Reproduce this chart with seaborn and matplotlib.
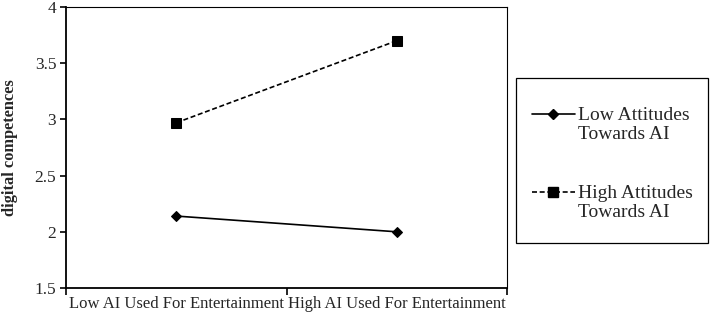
import matplotlib
matplotlib.use("Agg")
import matplotlib.pyplot as plt
import seaborn as sns
import pandas as pd
from matplotlib.lines import Line2D
from matplotlib.patches import Rectangle
from matplotlib.legend_handler import HandlerLine2D

usage = ["Low AI Used For Entertainment", "High AI Used For Entertainment"]
low_att = [2.14, 2.00]
high_att = [2.97, 3.70]
series_names = ["Low Attitudes\nTowards AI", "High Attitudes\nTowards AI"]
y_ticks = [1.5, 2, 2.5, 3, 3.5, 4]
y_tick_labels = ["1.5", "2", "2.5", "3", "3.5", "4"]
y_label = "digital competences"

df = pd.DataFrame({
    "usage": usage * 2,
    "value": low_att + high_att,
    "group": [series_names[0]] * 2 + [series_names[1]] * 2,
})

sns.set_theme(style="white")
plt.rcParams["font.family"] = ["Liberation Serif", "DejaVu Serif"]

fig = plt.figure(figsize=(7.1, 3.16), dpi=100)
ax = fig.add_axes([66 / 710, 28 / 316, (507 - 66) / 710, (288 - 7) / 316])

pos = {u: i for i, u in enumerate(usage)}
df["x"] = df["usage"].map(pos)

dash = (0, (3, 1.6))
sns.lineplot(data=df[df.group == series_names[0]], x="x", y="value", ax=ax,
             color="black", linewidth=1.2, marker="D", markersize=5.5,
             markeredgecolor="black", linestyle="-", legend=False)
sns.lineplot(data=df[df.group == series_names[1]], x="x", y="value", ax=ax,
             color="black", linewidth=1.2, marker="s", markersize=7,
             markeredgecolor="black", linestyle=dash, legend=False)

ax.set_xlim(-0.5, len(usage) - 0.5)
ax.set_ylim(1.5, 4)
ax.set_xticks([-0.5, 0.5, 1.5])
ax.set_xticklabels([])
ax.set_xticks(range(len(usage)), minor=True)
ax.set_xticklabels(usage, minor=True, fontsize=12)
ax.tick_params(axis="x", which="minor", length=0, pad=6)
ax.tick_params(axis="x", which="major", length=5, width=1.2, color="black", direction="out", bottom=True)
ax.set_yticks(y_ticks)
ax.set_yticklabels(y_tick_labels, fontsize=12.5)
ax.tick_params(axis="y", length=4, width=1.2, color="black", direction="out", left=True, pad=3)
ax.set_xlabel("")
ax.set_ylabel(y_label, fontsize=11.8, fontweight="bold", labelpad=12)
for s in ax.spines.values():
    s.set_color("black")
    s.set_linewidth(1.3)
ax.spines["top"].set_linewidth(0.8)
ax.spines["right"].set_linewidth(0.8)

LEG_FS = 14
LEG_LS = 1.12


class TopLineHandler(HandlerLine2D):
    def create_artists(self, legend, orig_handle, xdescent, ydescent, width,
                       height, fontsize, trans):
        arts = super().create_artists(legend, orig_handle, xdescent, ydescent,
                                      width, height, fontsize, trans)
        shift = LEG_LS * fontsize / 2.0
        for a in arts:
            a.set_ydata([y + shift for y in a.get_ydata()])
        return arts


handles = [
    Line2D([], [], color="black", linewidth=1.2, marker="D", markersize=5.5, linestyle="-"),
    Line2D([], [], color="black", linewidth=1.2, marker="s", markersize=7, linestyle=dash),
]
leg = fig.legend(handles, series_names, loc="upper left",
                 bbox_to_anchor=(532 / 710, 1 - 107 / 316),
                 frameon=False, fontsize=LEG_FS, handlelength=2.2,
                 handletextpad=0.15, labelspacing=2.2, borderpad=0,
                 borderaxespad=0,
                 handler_map={Line2D: TopLineHandler()})
for t in leg.get_texts():
    t.set_linespacing(LEG_LS)

fig.patches.append(Rectangle((516 / 710, 1 - 243 / 316), (708 - 516) / 710,
                             (243 - 78) / 316, transform=fig.transFigure,
                             fill=False, edgecolor="black", linewidth=0.9))

fig.savefig("out.png", dpi=100)
